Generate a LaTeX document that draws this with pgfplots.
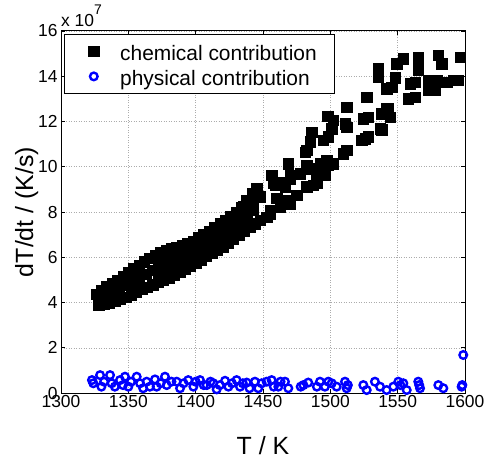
\documentclass[border=0pt]{standalone}
\usepackage{fontspec}
\setmainfont{Liberation Sans}
\usepackage{pgfplots}
\pgfplotsset{compat=1.18}
\definecolor{mblue}{RGB}{0,0,255}
\pgfplotsset{mylegimg/.style={legend image code/.code={\path (0bp,0bp) (37bp,0bp); \draw[##1] plot coordinates {(14bp,0bp)};}}}
\begin{document}
\begin{tikzpicture}
\path[use as bounding box] (-61bp,-66bp) rectangle (425bp,393bp);
\begin{axis}[
  at={(0,0)}, anchor=south west,
  scale only axis, width=404bp, height=362bp,
  xmin=1300, xmax=1600, ymin=0, ymax=16,
  xtick={1300,1350,...,1600}, ytick={0,2,...,16},
  grid=major,
  grid style={gray!65, line width=0.5bp, dash pattern=on 1bp off 1.5bp},
  axis line style={line width=1bp},
  tick style={black, line width=0.8bp},
  tick align=inside, major tick length=4bp,
  xtick pos=both, ytick pos=both,
  scaled ticks=false,
  /pgf/number format/assume math mode=true,
  /pgf/number format/1000 sep={},
  ticklabel style={font=\fontsize{17.5}{20}\selectfont},
  xticklabel style={inner sep=2bp},
  xlabel={T / K}, ylabel={dT/dt / (K/s)},
  label style={font=\fontsize{25}{28}\selectfont, inner sep=0pt},
  xlabel style={at={(axis description cs:0.5,-0.171)}, anchor=base},
  ylabel style={at={(axis description cs:-0.0693,0.5)}, anchor=base},
  clip=false,
  legend style={at={(axis description cs:0,1)}, anchor=north west,
    xshift=3bp, yshift=-3bp, draw=black, line width=0.8bp,
    font=\fontsize{21}{24}\selectfont, inner xsep=15bp, inner ysep=7bp,
    row sep=5bp, nodes={inner xsep=3bp, inner ysep=0pt, text height=19bp, text depth=1bp},
    cells={anchor=west}},
]
\addplot[only marks, mark=square*, mark size=5.2bp, mark options={draw=black, fill=black, line width=0.4bp}, mylegimg]
coordinates {
(1328,3.88) (1332,3.92) (1336,3.99) (1340,4.05) (1344,4.14) (1348,4.23) (1352,4.33) (1356,4.46)
(1360,4.58) (1364,4.68) (1368,4.79) (1372,4.89) (1376,5.00) (1380,5.10) (1384,5.22) (1388,5.34)
(1392,5.46) (1396,5.60) (1400,5.73) (1404,5.88) (1408,6.04) (1412,6.20) (1416,6.34) (1420,6.47)
(1424,6.61) (1428,6.80) (1432,6.98) (1436,7.16) (1440,7.33) (1444,7.49)
(1326,4.38) (1330,4.55) (1334,4.69) (1338,4.84) (1342,4.99) (1346,5.14) (1350,5.32) (1354,5.49)
(1358,5.64) (1362,5.80) (1366,5.95) (1370,6.10) (1374,6.21) (1378,6.29) (1382,6.37) (1386,6.45)
(1390,6.54) (1394,6.62) (1398,6.71) (1402,6.86) (1406,7.01) (1410,7.16) (1414,7.32) (1418,7.48)
(1422,7.64) (1426,7.81) (1430,8.00) (1434,8.22) (1438,8.50) (1442,8.80)
(1328,4.15) (1333,4.32) (1338,4.45) (1343,4.58) (1348,4.76) (1353,4.92) (1358,5.10) (1363,5.25)
(1368,5.44) (1373,5.56) (1378,5.66) (1383,5.80) (1388,5.92) (1393,6.03) (1398,6.15) (1403,6.36)
(1408,6.53) (1413,6.74) (1418,6.90) (1423,7.10) (1428,7.30) (1433,7.55) (1438,7.80)
(1372,5.20) (1378,5.36) (1384,5.52) (1390,5.69) (1396,5.85) (1402,6.09) (1408,6.29) (1414,6.50)
(1420,6.72) (1426,6.95) (1432,7.24) (1438,7.52)
(1372,5.84) (1378,5.98) (1384,6.12) (1390,6.26) (1396,6.38) (1402,6.59) (1408,6.81) (1414,7.05)
(1420,7.27) (1426,7.50) (1432,7.80) (1438,8.15)
(1440.3,7.34) (1447.8,7.64) (1452.7,7.78) (1455.2,7.93) (1462.6,8.30) (1467.6,8.37) (1475.0,8.74)
(1482.4,9.11) (1489.9,9.26) (1489.9,9.70) (1496.0,9.62) (1498.5,10.07) (1502.2,10.14) (1509.6,10.58)
(1512.1,10.73) (1523.3,11.17) (1525.7,11.24) (1528.2,11.32) (1536.9,11.69) (1538.1,11.64) (1544.3,12.20)
(1557.9,13.01) (1562.9,13.08) (1572.8,13.38) (1577.7,13.38) (1586.4,13.74) (1591.3,13.82) (1595.0,13.82)
(1445.3,9.04) (1456.4,9.62) (1458.9,9.18) (1466.3,9.11) (1468.8,10.14) (1470.0,9.62) (1482.4,10.73)
(1484.9,11.10) (1486.2,11.54) (1494.8,11.17) (1498.5,11.32) (1501.0,11.69) (1498.0,12.23) (1502.2,12.05)
(1510.9,11.91) (1512.1,11.76) (1512.1,12.64) (1524.5,12.13) (1528.2,12.20) (1527.0,13.08) (1535.6,13.97)
(1535.6,14.33) (1538.1,12.35) (1541.8,12.57) (1541.8,13.45) (1545.6,13.52) (1548.0,13.94) (1549.3,14.56)
(1554.2,14.78) (1565.3,14.85) (1565.3,14.58) (1565.3,14.26) (1580.2,14.92) (1582.7,14.56) (1596.3,14.85)
(1559.2,13.67) (1562.9,13.74) (1572.8,13.82) (1579.0,13.82) (1543.0,12.57)
(1457.6,9.26) (1463.9,9.33) (1470.0,9.48) (1477.5,9.70) (1484.9,9.92) (1492.3,10.14) (1497.3,10.29)
(1482.4,10.07) (1442.8,8.52) (1447.8,8.67) (1460.2,8.60) (1467.6,8.52) (1435.4,8.23) (1442.8,8.08)
(1455.2,8.08) (1462.6,8.23) (1470.0,8.37) (1432.9,7.78) (1423.0,7.64) (1415.6,7.20) (1428.0,7.05)
(1481.2,10.65) (1482.4,9.11) (1487.4,9.18)
};
\addlegendentry{chemical contribution}
\addplot[only marks, mark=o, mark size=3.8bp, mark options={draw=mblue, line width=2.4bp}, mylegimg]
coordinates {
(1323,0.57) (1324,0.43) (1329,0.79) (1330,0.28) (1332,0.50) (1336.4,0.79) (1337.6,0.43) (1340,0.28)
(1343.8,0.57) (1346,0.35) (1347.5,0.72) (1350,0.28) (1352,0.50) (1356.2,0.72) (1358.7,0.43) (1361,0.21)
(1363.6,0.50) (1366,0.28) (1369.8,0.60) (1371,0.28) (1374,0.43) (1377.2,0.72) (1378.5,0.35) (1382,0.50)
(1385.9,0.50) (1388.4,0.21) (1391,0.43) (1394.5,0.57) (1398.3,0.28) (1400,0.50) (1403.2,0.57) (1406,0.35)
(1408.2,0.35) (1411,0.50) (1413.1,0.43) (1415.6,0.16) (1418,0.35) (1421.8,0.54) (1424.3,0.28) (1427,0.43)
(1430.4,0.57) (1432.9,0.28) (1435,0.43) (1437.9,0.46) (1440,0.21) (1444,0.50) (1446.5,0.21) (1449,0.43)
(1452.7,0.50) (1456.4,0.57) (1458,0.28) (1461.4,0.28) (1463,0.50) (1466.3,0.50) (1468.8,0.21) (1478,0.28)
(1480,0.35) (1483.6,0.46) (1490,0.28) (1492.3,0.50) (1496,0.28) (1498.5,0.50) (1501,0.43) (1504.7,0.28)
(1510.9,0.50) (1512.1,0.21) (1513,0.35) (1524.5,0.35) (1527,0.13) (1533.1,0.50) (1536.9,0.28) (1541.8,0.13)
(1546.8,0.28) (1550.5,0.50) (1552,0.35) (1554.2,0.43) (1556.7,0.13) (1565.3,0.50) (1566.6,0.21) (1566,0.35)
(1580.2,0.35) (1583.9,0.21) (1597.5,0.28) (1598,0.35) (1598.7,1.68)
};
\addlegendentry{physical contribution}
\node[anchor=base west, inner sep=0pt, font=\fontsize{17.5}{20}\selectfont]
  at (axis description cs:0,1) [yshift=4bp] {x 10\raisebox{12bp}{\fontsize{14}{14}\selectfont 7}};
\end{axis}
\end{tikzpicture}
\end{document}
